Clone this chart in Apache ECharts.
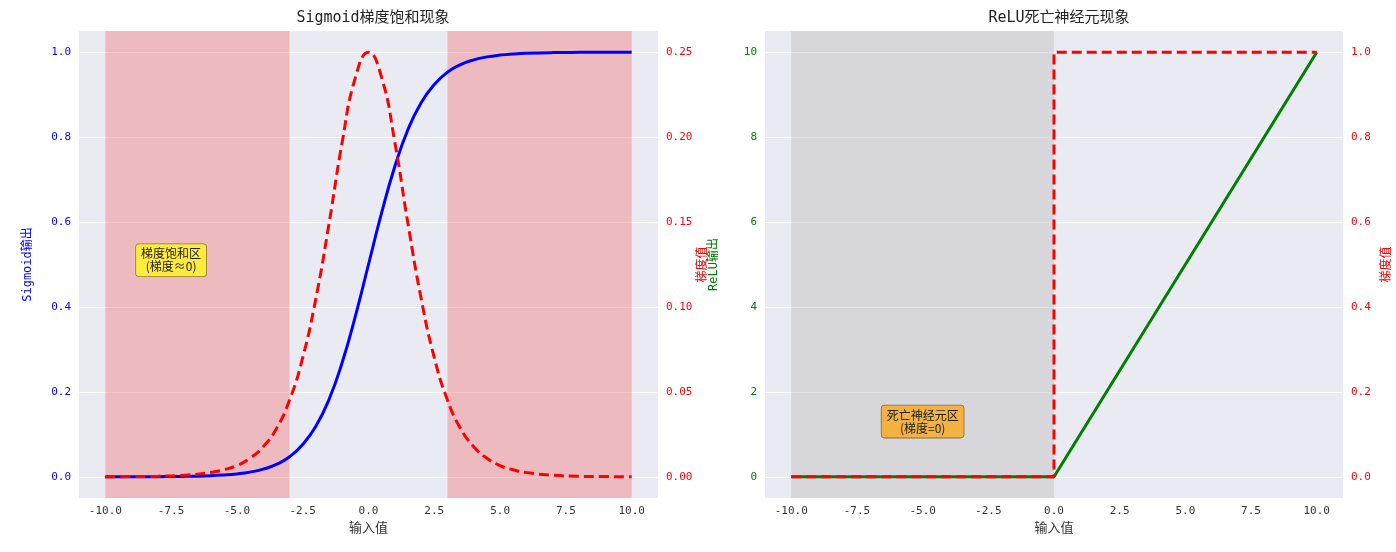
<!DOCTYPE html>
<html>
<head>
<meta charset="utf-8">
<script src="https://cdn.jsdelivr.net/npm/echarts@6/dist/echarts.min.js"></script>
<style>html,body{margin:0;padding:0;background:#fff}#main{width:1396px;height:552px}</style>
</head>
<body>
<div id="main"></div>
<script>
// values
let xs = [-10, -9, -8, -7, -6, -5.5, -5, -4.5, -4, -3.5, -3, -2.5, -2, -1.5, -1, -0.5, 0,
  0.5, 1, 1.5, 2, 2.5, 3, 3.5, 4, 4.5, 5, 5.5, 6, 7, 8, 9, 10];
let sigOut = [0, 0.0001, 0.0003, 0.0009, 0.0025, 0.0041, 0.0067, 0.011, 0.018, 0.029, 0.047, 0.076, 0.119, 0.182, 0.269, 0.378, 0.5,
  0.622, 0.731, 0.818, 0.881, 0.924, 0.953, 0.971, 0.982, 0.989, 0.9933, 0.9959, 0.9975, 0.9991, 0.9997, 0.9999, 1];
let sigGrad = [0.00005, 0.0001, 0.0003, 0.0009, 0.0025, 0.0041, 0.0066, 0.0109, 0.0177, 0.0283, 0.0452, 0.0701, 0.105, 0.149, 0.197, 0.235, 0.25,
  0.235, 0.197, 0.149, 0.105, 0.0701, 0.0452, 0.0283, 0.0177, 0.0109, 0.0066, 0.0041, 0.0025, 0.0009, 0.0003, 0.0001, 0.00005];
let reluX = [-10, 0, 10];
let reluOut = [0, 0, 10];
let reluGradPts = [[-10, 0], [0, 0], [0, 1], [10, 1]];
let xTicks = [-10, -7.5, -5, -2.5, 0, 2.5, 5, 7.5, 10];
let sigTicks = [0, 0.2, 0.4, 0.6, 0.8, 1.0];
let sigGradTicks = [0, 0.05, 0.1, 0.15, 0.2, 0.25];
let reluTicks = [0, 2, 4, 6, 8, 10];
let reluGradTicks = [0, 0.2, 0.4, 0.6, 0.8, 1.0];

const FONT = "'DejaVu Sans Mono', 'Noto Sans CJK SC', monospace";
let chart = echarts.init(document.getElementById('main'));

function xAxis(gi) {
  return {
    type: 'value', gridIndex: gi, min: -11, max: 11,
    name: '输入值', nameLocation: 'middle', nameGap: 22,
    nameTextStyle: { color: '#333', fontSize: 13, fontFamily: FONT },
    axisLine: { show: false }, axisTick: { show: false, customValues: xTicks },
    axisLabel: { customValues: xTicks, color: '#333', fontSize: 11, fontFamily: FONT, formatter: v => v.toFixed(1) },
    splitLine: { show: false }
  };
}
function yAxis(gi, min, max, ticks, name, color, pos, dec, grid) {
  return {
    type: 'value', gridIndex: gi, min: min, max: max, position: pos,
    name: name, nameLocation: 'middle', nameGap: pos === 'left' ? 45 : 38,
    nameTextStyle: { color: color, fontSize: 12, fontFamily: FONT },
    axisLine: { show: false }, axisTick: { show: false, customValues: ticks },
    axisLabel: { customValues: ticks, color: color, fontSize: 11, fontFamily: FONT, formatter: v => v.toFixed(dec) },
    splitLine: { show: grid, lineStyle: { color: '#fff', width: 1.2 } }
  };
}

let option = {
  animation: false,
  title: [
    { text: 'Sigmoid梯度饱和现象', left: 368, top: 6, textAlign: 'center', textStyle: { fontSize: 15, fontWeight: 'normal', color: '#222', fontFamily: FONT } },
    { text: 'ReLU死亡神经元现象', left: 1054, top: 6, textAlign: 'center', textStyle: { fontSize: 15, fontWeight: 'normal', color: '#222', fontFamily: FONT } }
  ],
  grid: [
    { left: 79, right: 738, top: 31, bottom: 54, show: true, backgroundColor: '#EAEAF2', borderWidth: 0 },
    { left: 765, right: 53, top: 31, bottom: 54, show: true, backgroundColor: '#EAEAF2', borderWidth: 0 }
  ],
  xAxis: [xAxis(0), xAxis(1)],
  yAxis: [
    yAxis(0, -0.05, 1.05, sigTicks, 'Sigmoid输出', 'blue', 'left', 1, true),
    yAxis(0, -0.0125, 0.2625, sigGradTicks, '梯度值', 'red', 'right', 2, false),
    yAxis(1, -0.5, 10.5, reluTicks, 'ReLU输出', 'green', 'left', 0, true),
    yAxis(1, -0.05, 1.05, reluGradTicks, '梯度值', 'red', 'right', 1, false)
  ],
  series: [
    {
      type: 'line', xAxisIndex: 0, yAxisIndex: 0, showSymbol: false, smooth: true,
      data: xs.map((x, i) => [x, sigOut[i]]),
      lineStyle: { color: 'blue', width: 3 }, z: 3,
      markArea: {
        silent: true, itemStyle: { color: 'rgba(240,128,128,0.45)' },
        data: [[{ xAxis: -10 }, { xAxis: -3 }], [{ xAxis: 3 }, { xAxis: 10 }]]
      },
      markPoint: {
        symbol: 'rect', symbolSize: 1, itemStyle: { color: 'transparent' },
        label: {
          show: true, formatter: '梯度饱和区\n(梯度≈0)', color: '#222', fontSize: 12, lineHeight: 13,
          fontFamily: "'Noto Sans CJK SC'", backgroundColor: '#FFEB3B', borderColor: '#8a7a30', borderWidth: 0.8,
          borderRadius: 3, padding: [3, 5], align: 'center', verticalAlign: 'middle'
        },
        data: [{ coord: [-7.5, 0.51] }]
      }
    },
    {
      type: 'line', xAxisIndex: 0, yAxisIndex: 1, showSymbol: false, smooth: true,
      data: xs.map((x, i) => [x, sigGrad[i]]),
      lineStyle: { color: 'red', width: 3, type: [10, 5] }, z: 4
    },
    {
      type: 'line', xAxisIndex: 1, yAxisIndex: 2, showSymbol: false,
      data: reluX.map((x, i) => [x, reluOut[i]]),
      lineStyle: { color: 'green', width: 3 }, z: 3,
      markArea: {
        silent: true, itemStyle: { color: 'rgba(190,190,190,0.45)' },
        data: [[{ xAxis: -10 }, { xAxis: 0 }]]
      },
      markPoint: {
        symbol: 'rect', symbolSize: 1, itemStyle: { color: 'transparent' },
        label: {
          show: true, formatter: '死亡神经元区\n(梯度=0)', color: '#222', fontSize: 12, lineHeight: 13,
          fontFamily: "'Noto Sans CJK SC'", backgroundColor: '#F2B140', borderColor: '#8a6a30', borderWidth: 0.8,
          borderRadius: 3, padding: [3, 5], align: 'center', verticalAlign: 'middle'
        },
        data: [{ coord: [-5, 1.3] }]
      }
    },
    {
      type: 'line', xAxisIndex: 1, yAxisIndex: 3, showSymbol: false,
      data: reluGradPts,
      lineStyle: { color: 'red', width: 3, type: [10, 5] }, z: 4
    }
  ]
};
chart.setOption(option);
</script>
</body>
</html>
